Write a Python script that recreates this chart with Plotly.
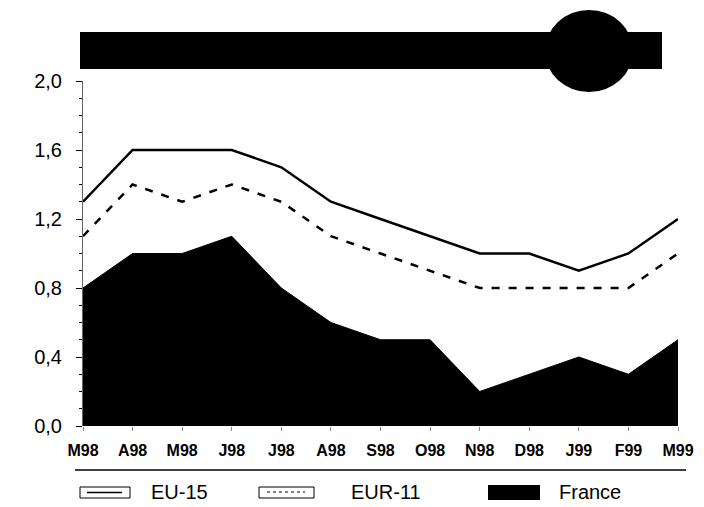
import plotly.graph_objects as go

# Données
mois = ["M98", "A98", "M98", "J98", "J98", "A98", "S98", "O98", "N98", "D98", "J99", "F99", "M99"]
eu15 = [1.3, 1.6, 1.6, 1.6, 1.5, 1.3, 1.2, 1.1, 1.0, 1.0, 0.9, 1.0, 1.2]
eur11 = [1.1, 1.4, 1.3, 1.4, 1.3, 1.1, 1.0, 0.9, 0.8, 0.8, 0.8, 0.8, 1.0]
france = [0.8, 1.0, 1.0, 1.1, 0.8, 0.6, 0.5, 0.5, 0.2, 0.3, 0.4, 0.3, 0.5]
legende = ["EU-15", "EUR-11", "France"]

# la page ajoute une marge de 8 px autour de la figure
OFF = 8
W, H = 704 - OFF, 507 - OFF
X0, X1, Y0, Y1 = 83, 678, 426, 81  # zone de tracé en pixels de la page
L, R, T, B = X0 - OFF, 704 - X1, Y1 - OFF, 507 - Y0
pw, ph = X1 - X0, Y0 - Y1


def px_x(p):
    return (p - X0) / pw


def px_y(p):
    return (Y0 - p) / ph


x = list(range(len(mois)))

fig = go.Figure()
fig.add_trace(go.Scatter(x=x, y=france, mode="lines", fill="tozeroy",
                         fillcolor="black", line=dict(color="black", width=1)))
fig.add_trace(go.Scatter(x=x, y=eu15, mode="lines", line=dict(color="black", width=2.5)))
fig.add_trace(go.Scatter(x=x, y=eur11, mode="lines",
                         line=dict(color="black", width=2.5, dash="8px,9px")))

shapes = []
# bandeau noir + ovale
shapes.append(dict(type="rect", xref="paper", yref="paper",
                   x0=px_x(80), x1=px_x(662), y0=px_y(69), y1=px_y(32),
                   fillcolor="black", line=dict(width=0)))
shapes.append(dict(type="circle", xref="paper", yref="paper",
                   x0=px_x(545), x1=px_x(633), y0=px_y(92), y1=px_y(10),
                   fillcolor="black", line=dict(width=0)))
# ligne de séparation
shapes.append(dict(type="line", xref="paper", yref="paper",
                   x0=px_x(75), x1=px_x(686), y0=px_y(470), y1=px_y(470),
                   line=dict(color="black", width=1.5)))
# légende
shapes.append(dict(type="rect", xref="paper", yref="paper",
                   x0=px_x(80), x1=px_x(130), y0=px_y(498), y1=px_y(487),
                   fillcolor="white", line=dict(color="black", width=1)))
shapes.append(dict(type="line", xref="paper", yref="paper",
                   x0=px_x(87), x1=px_x(122), y0=px_y(492.5), y1=px_y(492.5),
                   line=dict(color="black", width=1.5)))
shapes.append(dict(type="rect", xref="paper", yref="paper",
                   x0=px_x(259), x1=px_x(314), y0=px_y(498), y1=px_y(487),
                   fillcolor="white", line=dict(color="black", width=1)))
shapes.append(dict(type="line", xref="paper", yref="paper",
                   x0=px_x(267), x1=px_x(305), y0=px_y(492), y1=px_y(492),
                   line=dict(color="black", width=1, dash="dot")))
shapes.append(dict(type="rect", xref="paper", yref="paper",
                   x0=px_x(488), x1=px_x(540), y0=px_y(500), y1=px_y(485),
                   fillcolor="black", line=dict(width=0)))

annotations = []
for lbl, xp in zip(legende, [149, 349, 557]):
    annotations.append(dict(text=lbl, xref="paper", yref="paper", x=px_x(xp), y=px_y(492),
                            xanchor="left", yanchor="middle", showarrow=False,
                            font=dict(family="Liberation Sans, Arial", size=20, color="black")))

fig.update_layout(
    width=W, height=H,
    margin=dict(l=L, r=R, t=T, b=B, autoexpand=False),
    plot_bgcolor="white", paper_bgcolor="white",
    showlegend=False, separators=", ",
    shapes=shapes, annotations=annotations,
    font=dict(family="Liberation Sans, Arial", color="black"),
)
fig.update_xaxes(range=[0, 12], tickmode="array", tickvals=x, ticktext=mois,
                 showgrid=False, zeroline=False, showline=False,
                 ticks="outside", ticklen=4, tickcolor="#888", ticklabelstandoff=6,
                 tickfont=dict(family="Liberation Sans Narrow, Liberation Sans", size=16,
                               color="black", weight="bold"))
fig.update_yaxes(range=[0, 2], tickvals=[0, 0.4, 0.8, 1.2, 1.6, 2.0], tickformat=".1f",
                 showgrid=False, zeroline=False, showline=True, linecolor="#666", linewidth=1,
                 ticks="outside", ticklen=6, tickcolor="black", ticklabelstandoff=10,
                 minor=dict(dtick=0.1, ticks="outside", ticklen=3, tickcolor="black"),
                 tickfont=dict(size=20, color="black"))

fig.write_html("out.html")
